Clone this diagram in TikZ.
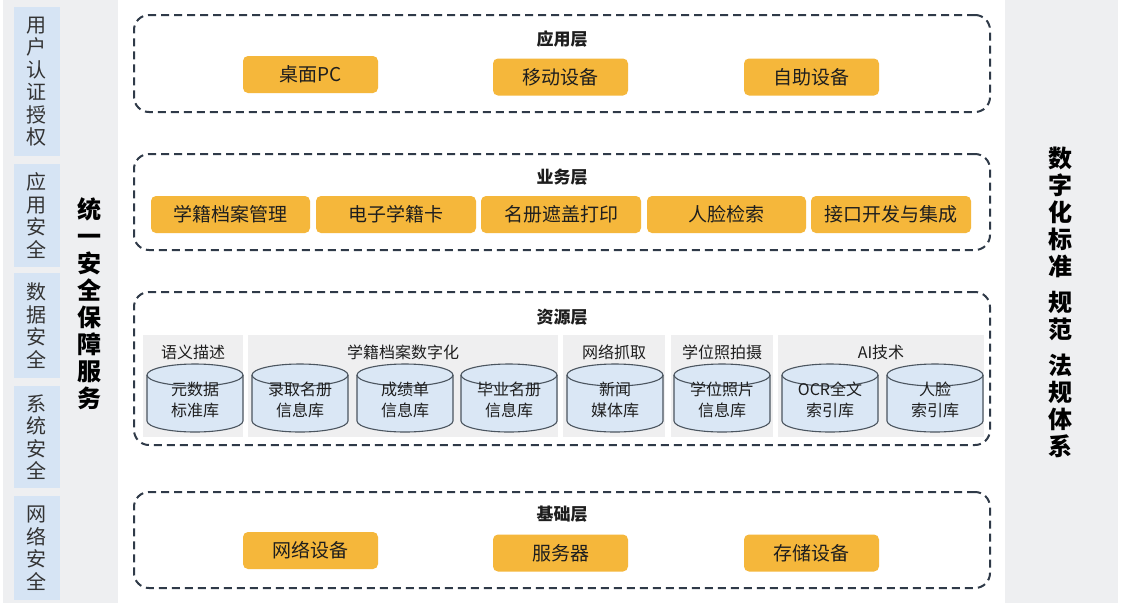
\documentclass[tikz,border=0pt]{standalone}
\usepackage{fontspec}
\setmainfont{Noto Sans CJK SC}
\definecolor{orng}{RGB}{245,183,59}
\definecolor{sideblue}{RGB}{214,228,244}
\definecolor{colgray}{RGB}{238,239,241}
\definecolor{subgray}{RGB}{239,239,240}
\definecolor{cylblue}{RGB}{218,231,245}
\definecolor{cyledge}{RGB}{75,85,95}
\definecolor{dashc}{RGB}{47,58,72}
\definecolor{txt}{RGB}{30,30,30}
\tikzset{
 layerbox/.style={draw=dashc, line width=2pt, dash pattern=on 8pt off 5pt, rounded corners=15pt, inner sep=0pt},
 ltitle/.style={font=\fontsize{17}{20}\selectfont\bfseries, text=txt, inner sep=0pt},
 obox/.style={fill=orng, rounded corners=5pt, font=\fontsize{19}{22}\selectfont, text=txt, inner sep=0pt, minimum height=37pt},
 sidebox/.style={fill=sideblue, minimum width=46pt, inner sep=0pt, align=center, font=\fontsize{20}{22.5}\selectfont, text=black!80},
 colpanel/.style={fill=colgray, inner sep=0pt},
 subpanel/.style={fill=subgray, inner sep=0pt, minimum height=102pt},
 subtitle/.style={font=\fontsize{16}{18}\selectfont, text=txt, inner sep=0pt},
 cyltext/.style={align=center, font=\fontsize{16}{21}\selectfont, text=txt, inner sep=0pt},
 vbig/.style={align=center, font=\fontsize{24}{27}\selectfont\bfseries, text=black, inner sep=0pt},
}
\newcommand\dbcyl[3]{%
 \fill[cylblue] (#2-48,375) -- (#2-48,421) arc[start angle=180,end angle=360,x radius=48pt,y radius=11pt] -- (#2+48,375) arc[start angle=0,end angle=180,x radius=48pt,y radius=11pt] -- cycle;
 \draw[cyledge, line width=1.1pt] (#2-48,375) -- (#2-48,421) arc[start angle=180,end angle=360,x radius=48pt,y radius=11pt] -- (#2+48,375);
 \draw[cyledge, line width=1.1pt] (#2,375) ellipse [x radius=48pt, y radius=11pt];
 \node[cyltext] (#1) at (#2,400) {#3};
}
\begin{document}
\begin{tikzpicture}[x=1pt,y=-1pt]
\useasboundingbox[fill=white] (0,0) rectangle (1122,603);
% side columns
\node[colpanel, minimum width=115pt, minimum height=603pt] (leftcol) at (60.5,301.5) {};
\node[colpanel, minimum width=113pt, minimum height=603pt] (rightcol) at (1061.5,301.5) {};
% left side boxes
\node[sidebox, minimum height=149pt] (s1) at (37,81.5) {用\\户\\认\\证\\授\\权};
\node[sidebox, minimum height=103pt] (s2) at (37,215.5) {应\\用\\安\\全};
\node[sidebox, minimum height=105pt] (s3) at (37,325.5) {数\\据\\安\\全};
\node[sidebox, minimum height=102pt] (s4) at (37,437) {系\\统\\安\\全};
\node[sidebox, minimum height=104pt] (s5) at (37,548) {网\\络\\安\\全};
\node[vbig] (secsvc) at (89,303.5) {统\\一\\安\\全\\保\\障\\服\\务};
\node[vbig] (stdsys) at (1060,302.5) {数\\字\\化\\标\\准\\[9pt]规\\范\\[9pt]法\\规\\体\\系};
% layer boxes
\node[layerbox, minimum width=856pt, minimum height=97pt] (L1) at (562,63.5) {};
\node[layerbox, minimum width=856pt, minimum height=96pt] (L2) at (562,202) {};
\node[layerbox, minimum width=856pt, minimum height=153pt] (L3) at (562,368.5) {};
\node[layerbox, minimum width=856pt, minimum height=96pt] (L4) at (562,540) {};
% titles
\node[ltitle] (t1) at (562,39.5) {应用层};
\node[ltitle] (t2) at (562,177.5) {业务层};
\node[ltitle] (t3) at (562,317) {资源层};
\node[ltitle] (t4) at (562,514.5) {基础层};
% application layer
\node[obox, minimum width=135pt] (a1) at (310.5,74.5) {桌面PC};
\node[obox, minimum width=135pt] (a2) at (560.5,77) {移动设备};
\node[obox, minimum width=135pt] (a3) at (811.5,77) {自助设备};
% business layer
\node[obox, minimum width=159pt] (b1) at (230.5,214.5) {学籍档案管理};
\node[obox, minimum width=160pt] (b2) at (396,214.5) {电子学籍卡};
\node[obox, minimum width=160pt] (b3) at (561,214.5) {名册遮盖打印};
\node[obox, minimum width=159pt] (b4) at (726.5,214.5) {人脸检索};
\node[obox, minimum width=160pt] (b5) at (891,214.5) {接口开发与集成};
% resource layer panels
\node[subpanel, minimum width=100pt] (p1) at (193,386) {};
\node[subpanel, minimum width=310pt] (p2) at (403,386) {};
\node[subpanel, minimum width=102pt] (p3) at (614,386) {};
\node[subpanel, minimum width=102pt] (p4) at (722,386) {};
\node[subpanel, minimum width=206pt] (p5) at (881,386) {};
\node[subtitle] (st1) at (193,352) {语义描述};
\node[subtitle] (st2) at (403,352) {学籍档案数字化};
\node[subtitle] (st3) at (614,352) {网络抓取};
\node[subtitle] (st4) at (722,352) {学位照拍摄};
\node[subtitle] (st5) at (881,352) {AI技术};
\dbcyl{c1}{195}{元数据\\标准库}
\dbcyl{c2}{300}{录取名册\\信息库}
\dbcyl{c3}{405}{成绩单\\信息库}
\dbcyl{c4}{509}{毕业名册\\信息库}
\dbcyl{c5}{615}{新闻\\媒体库}
\dbcyl{c6}{722}{学位照片\\信息库}
\dbcyl{c7}{830}{OCR全文\\索引库}
\dbcyl{c8}{935}{人脸\\索引库}
% base layer
\node[obox, minimum width=135pt] (d1) at (310.5,550.5) {网络设备};
\node[obox, minimum width=135pt] (d2) at (560.5,553) {服务器};
\node[obox, minimum width=135pt] (d3) at (811.5,553) {存储设备};
\end{tikzpicture}
\end{document}
